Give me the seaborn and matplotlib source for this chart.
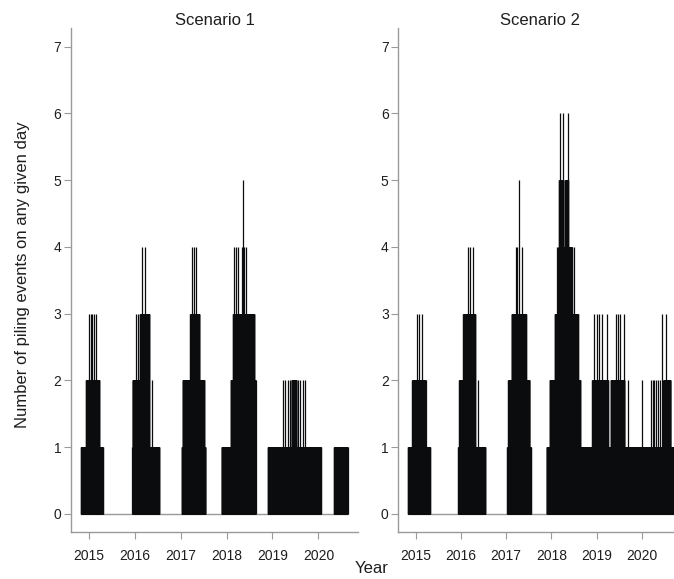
import numpy as np
import pandas as pd
import seaborn as sns
import matplotlib
matplotlib.use('Agg')
import matplotlib.pyplot as plt
import matplotlib.dates as mdates

# panels
scenarios = ['Scenario 1', 'Scenario 2']

# runs of days with piling: (first day, last day, events per day)
s1_blocks = [
    ('2014-11-03', '2015-04-23', 1), ('2014-12-13', '2015-03-25', 2),
    ('2015-12-15', '2016-07-14', 1), ('2015-12-16', '2016-04-25', 2),
    ('2016-02-14', '2016-04-25', 3),
    ('2017-01-12', '2017-07-16', 1), ('2017-01-18', '2017-07-06', 2),
    ('2017-03-19', '2017-05-29', 3),
    ('2017-11-23', '2018-08-19', 1), ('2018-02-05', '2018-08-19', 2),
    ('2018-02-23', '2018-08-08', 3),
    ('2018-11-27', '2020-01-19', 1), ('2019-06-01', '2019-07-10', 2),
    ('2020-05-05', '2020-08-19', 1),
]
# single days sticking out above the runs: (day, events)
s1_spikes = [
    ('2015-01-06', 3), ('2015-01-19', 3), ('2015-02-01', 3), ('2015-02-15', 3), ('2015-02-28', 3),
    ('2016-01-13', 3), ('2016-01-29', 3), ('2016-05-18', 2), ('2016-02-28', 4), ('2016-03-25', 4),
    ('2017-04-04', 4), ('2017-04-17', 4), ('2017-05-01', 4),
    ('2018-03-03', 4), ('2018-03-14', 4), ('2018-04-04', 4), ('2018-05-06', 4),
    ('2018-05-14', 5), ('2018-05-22', 4), ('2018-06-07', 4),
    ('2019-03-26', 2), ('2019-04-14', 2), ('2019-05-05', 2), ('2019-05-18', 2),
    ('2019-07-23', 2), ('2019-08-11', 2), ('2019-09-01', 2), ('2019-09-15', 2),
]

s2_blocks = [
    ('2014-11-01', '2015-04-25', 1), ('2014-12-04', '2015-03-21', 2),
    ('2015-12-11', '2016-07-14', 1), ('2015-12-19', '2016-04-23', 2),
    ('2016-01-20', '2016-04-23', 3),
    ('2017-01-10', '2017-07-18', 1), ('2017-01-18', '2017-07-07', 2),
    ('2017-02-15', '2017-06-08', 3),
    ('2017-11-24', '2020-10-01', 1), ('2017-12-20', '2018-08-20', 2),
    ('2018-01-30', '2018-08-02', 3), ('2018-03-11', '2018-06-14', 4),
    ('2018-03-05', '2018-04-04', 5), ('2018-04-21', '2018-05-13', 5),
    ('2018-11-27', '2019-04-01', 2), ('2019-04-27', '2019-08-13', 2),
    ('2020-06-24', '2020-08-19', 2),
]
s2_spikes = [
    ('2015-01-09', 3), ('2015-01-27', 3), ('2015-02-18', 3),
    ('2016-05-21', 2), ('2016-02-24', 4), ('2016-03-14', 4), ('2016-04-10', 4),
    ('2017-03-18', 4), ('2017-03-29', 4), ('2017-04-15', 5), ('2017-05-08', 4),
    ('2018-02-13', 4), ('2018-02-27', 4), ('2018-07-06', 4),
    ('2018-03-09', 6), ('2018-04-06', 6), ('2018-05-16', 6),
    ('2018-12-13', 3), ('2019-01-02', 3), ('2019-01-21', 3), ('2019-02-12', 3),
    ('2019-03-29', 3), ('2019-06-07', 3), ('2019-06-23', 3), ('2019-07-07', 3),
    ('2019-08-13', 3), ('2019-09-09', 2), ('2020-01-06', 2),
    ('2020-03-15', 2), ('2020-03-29', 2), ('2020-04-12', 2), ('2020-04-26', 2),
    ('2020-05-09', 2), ('2020-05-28', 2), ('2020-06-16', 3), ('2020-07-17', 3),
]

y_ticks = [0, 1, 2, 3, 4, 5, 6, 7]


def daily_counts(blocks, spikes):
    days = pd.date_range(min(b[0] for b in blocks), max(b[1] for b in blocks), freq='D')
    counts = pd.Series(0, index=days)
    for a, b, n in blocks:
        counts[a:b] = np.maximum(counts[a:b], n)
    for d, n in spikes:
        counts[d] = max(counts[d], n)
    return counts


frames = []
for name, blocks, spikes in zip(scenarios, [s1_blocks, s2_blocks], [s1_spikes, s2_spikes]):
    c = daily_counts(blocks, spikes)
    frames.append(pd.DataFrame({'scenario': name, 'date': c.index, 'count': c.values}))
df = pd.concat(frames, ignore_index=True)

sns.set_style('ticks')
plt.rcParams['font.family'] = ['Liberation Sans', 'DejaVu Sans']

grey = '#9a9a9a'
g = sns.FacetGrid(df, col='scenario', col_order=scenarios, sharex=True, sharey=True,
                  height=5, aspect=0.6, despine=False)
g.map_dataframe(plt.vlines, 'date', 0, 'count', color='#0a0c0e', linewidth=0.9)

fig = g.figure
fig.set_size_inches(6.74, 5.79)
fig.set_dpi(100)

# axes placement (second panel runs off the right edge as in the original)
g.axes[0, 0].set_position([0.1053, 0.0812, 0.4258, 0.8705])
g.axes[0, 1].set_position([0.5911, 0.0812, 0.4188, 0.8705])

for ax, name in zip(g.axes.flat, scenarios):
    sub = df[df['scenario'] == name]
    ax.hlines(0, sub['date'].min(), sub['date'].max(), color=grey, linewidth=1, zorder=0)
    ax.set_xlim(pd.Timestamp('2014-08-14'), pd.Timestamp('2020-11-10'))
    ax.set_ylim(-0.27, 7.28)
    ax.set_yticks(y_ticks)
    ax.xaxis.set_major_locator(mdates.YearLocator())
    ax.xaxis.set_major_formatter(mdates.DateFormatter('%Y'))
    for s in ['top', 'right']:
        ax.spines[s].set_visible(False)
    for s in ['left', 'bottom']:
        ax.spines[s].set_color(grey)
        ax.spines[s].set_linewidth(1)
    ax.tick_params(axis='x', length=5, width=0.8, color=grey, pad=7,
                   labelsize=10, labelcolor='#1e1e1e', labelbottom=True)
    ax.tick_params(axis='y', length=5, width=0.8, color=grey, pad=2,
                   labelsize=10, labelcolor='#1e1e1e', labelleft=True)
    ax.set_xlabel('')
    ax.set_ylabel('')
    ax.set_title(name, fontsize=12, pad=0, color='#1e1e1e')

fig.text(0.033, 0.525, 'Number of piling events on any given day', rotation=90,
         ha='center', va='center', fontsize=12, color='#1e1e1e')
fig.text(0.552, 0.018, 'Year', ha='center', va='center', fontsize=12, color='#1e1e1e')

fig.savefig('out.png', dpi=100)
